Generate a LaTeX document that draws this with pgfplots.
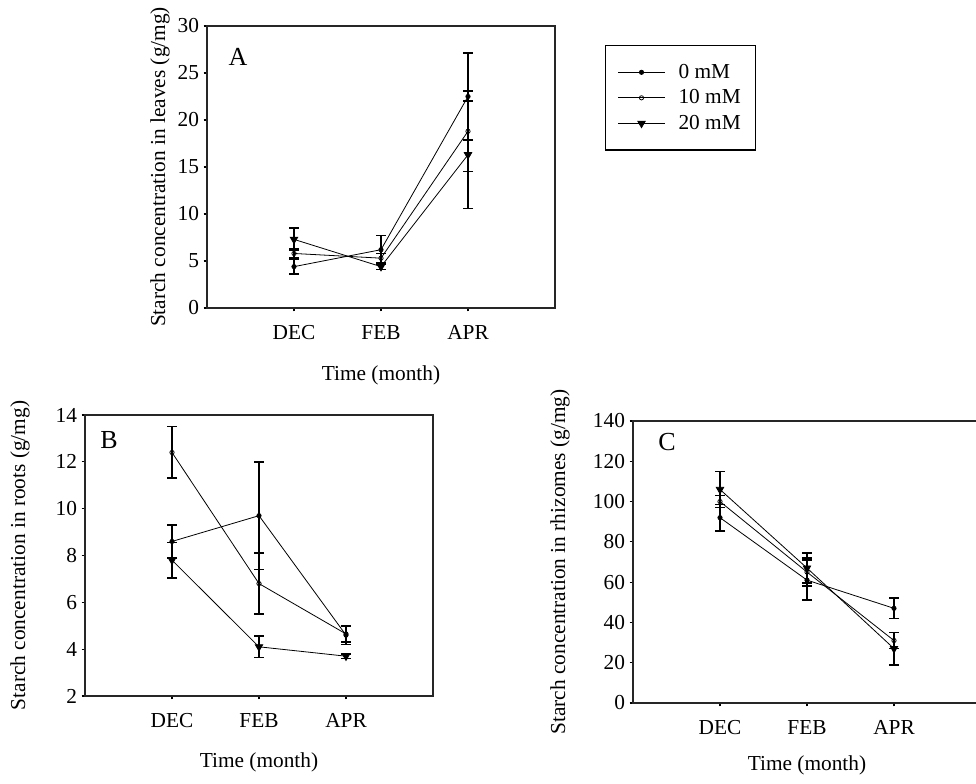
\documentclass[border=0pt]{standalone}
\usepackage{fontspec}
\setmainfont{Liberation Serif}
\usepackage{pgfplots}
\usepackage{pgfplotstable}
\pgfplotsset{compat=1.18}

\pgfplotstableread{
x a ea b eb c ec
1 4.4 0.8 5.8 0.5 7.3 1.2
2 6.2 1.5 5.3 0.5 4.4 0.3
3 22.5 4.6 18.8 4.3 16.3 5.7
}\dataA
\pgfplotstableread{
x a ea b eb c ec
1 8.6 0.7 12.4 1.1 7.8 0.75
2 9.7 2.3 6.8 1.3 4.1 0.45
3 4.6 0.4 4.65 0.35 3.7 0.1
}\dataB
\pgfplotstableread{
x a ea b eb c ec
1 92 6.5 100 3 106 9
2 61 10 65 7 67 7.5
3 47 5 31 4 27 8
}\dataC

\newcommand{\lblfont}{\fontsize{16}{19}\selectfont}
\pgfplotsset{
  panel/.style={
    scale only axis, width=261pt,
    xmin=0, xmax=4,
    xtick={1,2,3}, xticklabels={DEC,FEB,APR},
    tick align=outside, xtick pos=left, ytick pos=left,
    major tick length=2.5pt,
    axis line style={line width=1.1pt, black!85},
    tick style={line width=0.9pt, black},
    /pgf/number format/assume math mode=true,
    tick label style={font=\lblfont},
    xticklabel style={yshift=-7pt},
    label style={font=\lblfont},
    clip=false,
  },
  err/.style={black, line width=0.6pt,
    error bars/y dir=both, error bars/y explicit,
    error bars/error bar style={line width=1.2pt, black},
    error bars/error mark options={rotate=90, mark size=3.75pt, line width=1.2pt, black}},
  s0/.style={err, mark=*, mark size=1.6pt, mark options={fill=black}},
  s1/.style={err, mark=o, mark size=1.6pt, mark options={fill=white, line width=0.6pt}},
  s2/.style={err, mark=triangle*, mark size=3.2pt, mark options={rotate=180, fill=black}},
}

\begin{document}
\begin{tikzpicture}
% Panel A
\begin{axis}[panel, at={(155.25pt,357pt)}, anchor=south west,
  height=211.5pt, ymin=0, ymax=30, ytick={0,5,...,30},
  xlabel={Time (month)}, ylabel={Starch concentration in leaves (g/mg)},
  xlabel style={at={(axis description cs:0.5,-0.238)}, anchor=center},
  ylabel style={at={(axis description cs:-0.135,0.5)}, anchor=center},
  legend style={at={(1.144,0.933)}, anchor=north west, draw=black, line width=1pt,
    font=\lblfont, inner xsep=9pt, inner ysep=12pt, row sep=3pt, cells={anchor=west},
    /tikz/every odd column/.append style={column sep=8pt}},
  legend image code/.code={\draw[#1, mark repeat=2, mark phase=2] plot coordinates {(0pt,0pt) (17.5pt,0pt) (35pt,0pt)};},
]
\addplot[s0] table[x=x, y=a, y error=ea] {\dataA};
\addlegendentry{0 mM}
\addplot[s1] table[x=x, y=b, y error=eb] {\dataA};
\addlegendentry{10 mM}
\addplot[s2] table[x=x, y=c, y error=ec] {\dataA};
\addlegendentry{20 mM}
\node[font=\fontsize{19.5}{22}\selectfont] at (axis description cs:0.089,0.89) {A};
\end{axis}
% Panel B
\begin{axis}[panel, at={(63.75pt,66pt)}, anchor=south west,
  height=210.75pt, ymin=2, ymax=14, ytick={2,4,...,14},
  xlabel={Time (month)}, ylabel={Starch concentration in roots (g/mg)},
  xlabel style={at={(axis description cs:0.5,-0.235)}, anchor=center},
  ylabel style={at={(axis description cs:-0.187,0.5)}, anchor=center},
]
\addplot[s0] table[x=x, y=a, y error=ea] {\dataB};
\addplot[s1] table[x=x, y=b, y error=eb] {\dataB};
\addplot[s2] table[x=x, y=c, y error=ec] {\dataB};
\node[font=\fontsize{19.5}{22}\selectfont] at (axis description cs:0.069,0.911) {B};
\end{axis}
% Panel C
\begin{axis}[panel, at={(474.75pt,60.75pt)}, anchor=south west,
  height=211.5pt, ymin=0, ymax=140, ytick={0,20,...,140},
  xlabel={Time (month)}, ylabel={Starch concentration in rhizomes (g/mg)},
  xlabel style={at={(axis description cs:0.5,-0.22)}, anchor=center},
  ylabel style={at={(axis description cs:-0.21,0.5)}, anchor=center},
]
\addplot[s0] table[x=x, y=a, y error=ea] {\dataC};
\addplot[s1] table[x=x, y=b, y error=eb] {\dataC};
\addplot[s2] table[x=x, y=c, y error=ec] {\dataC};
\node[font=\fontsize{19.5}{22}\selectfont] at (axis description cs:0.098,0.926) {C};
\end{axis}
\pgfresetboundingbox
\useasboundingbox (0,0) rectangle (732pt,588pt);
\end{tikzpicture}
\end{document}
